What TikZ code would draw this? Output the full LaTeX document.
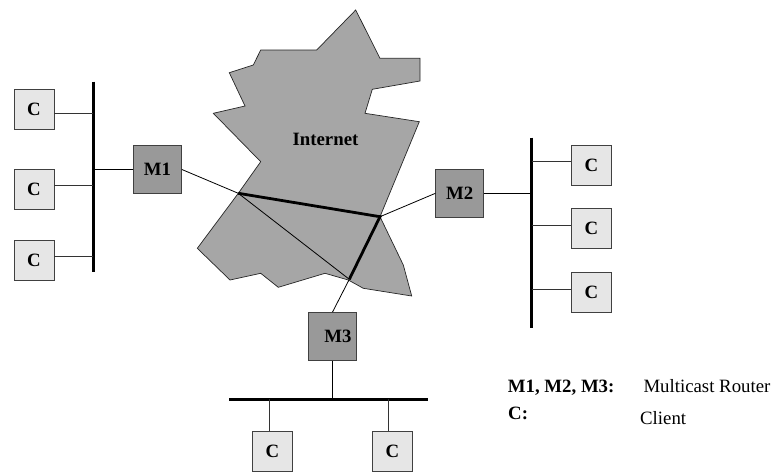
\documentclass[tikz,border=0pt]{standalone}
\usepackage{fontspec}
\setmainfont{Liberation Serif}
\definecolor{cloudfill}{HTML}{A6A6A6}
\definecolor{routerfill}{HTML}{999999}
\definecolor{clientfill}{HTML}{E6E6E6}
\definecolor{boxedge}{HTML}{404040}
\definecolor{tapgray}{HTML}{333333}
\newcommand{\labelfont}{\fontsize{18.8}{22}\selectfont}
\begin{document}
\begin{tikzpicture}[x=1pt,y=-1pt,
  client/.style={draw=boxedge, fill=clientfill, line width=0.8pt,
    minimum width=40pt, minimum height=40pt, inner sep=0pt,
    font=\labelfont\bfseries},
  router/.style={draw=boxedge, fill=routerfill, line width=0.8pt,
    minimum size=48pt, inner sep=0pt, font=\labelfont\bfseries},
  cloud/.style={draw=black!85, fill=cloudfill, line width=0.7pt, line join=miter},
  bus/.style={line width=3pt},
  link/.style={line width=0.8pt, draw=black},
  tap/.style={line width=0.8pt, draw=tapgray},
  backbone/.style={line width=2.8pt},
  plaintext/.style={inner sep=0pt, anchor=base west, font=\labelfont},
  boldtext/.style={plaintext, font=\labelfont\bfseries}]
\useasboundingbox (0,0) rectangle (773,471);

% the Internet cloud
\draw[cloud] (355.7,10) -- (380,58.3) -- (420,58.3) -- (420,81) -- (372.3,89.3)
  -- (365,113.3) -- (419.3,121.7) -- (380,216.7) -- (403.3,265) -- (411.7,296)
  -- (363.3,288.3) -- (348.3,280) -- (325,273.3) -- (278.3,287.3) -- (260.7,273.3)
  -- (230,280) -- (197.3,248.3) -- (238.3,193.3) -- (260.7,161.7) -- (213.3,113.3)
  -- (245,106) -- (229.3,72.7) -- (253.3,65) -- (260.7,50) -- (316.7,50) -- cycle;
\node[inner sep=0pt, anchor=base, font=\labelfont\bfseries] (inet) at (325.5,145.7) {Internet};

% border points of the Internet where the routers attach
\coordinate (ja) at (238.3,193.3);
\coordinate (jb) at (380,216.7);
\coordinate (jc) at (349.3,279.3);

% routers
\node[router] (m1) at (157.5,169.5) {M1};
\node[router] (m2) at (459.8,193.3) {M2};
\node[router] (m3) at (332.5,336.5) {\hspace{11pt}\raisebox{-2pt}{M3}};

% clients
\node[client] (cl1) at (34,109.3) {C};
\node[client] (cl2) at (34,189.3) {C};
\node[client] (cl3) at (34,260.7) {C};
\node[client] (cr1) at (591.3,165.3) {C};
\node[client] (cr2) at (591.3,228.7) {C};
\node[client] (cr3) at (591.3,292.5) {C};
\node[client] (cb1) at (272.5,451.7) {C};
\node[client] (cb2) at (392.3,451.7) {C};

% LAN segments
\coordinate (lbt) at (93.3,81.7);
\coordinate (lbb) at (93.3,271.7);
\coordinate (rbt) at (531.7,137.7);
\coordinate (rbb) at (531.7,328.3);
\coordinate (bbl) at (229,399.3);
\coordinate (bbr) at (428.3,399.3);
\draw[bus] (lbt) -- (lbb);
\draw[bus] (rbt) -- (rbb);
\draw[bus] (bbl) -- (bbr);

% client taps on the segments
\coordinate (lt1) at (93.3,113);
\coordinate (lt2) at (93.3,185);
\coordinate (lt3) at (93.3,256.7);
\draw[tap] (lt1) -- (lt1 -| cl1.east);
\draw[tap] (lt2) -- (lt2 -| cl2.east);
\draw[tap] (lt3) -- (lt3 -| cl3.east);
\coordinate (rt1) at (531.7,161.7);
\coordinate (rt2) at (531.7,225);
\coordinate (rt3) at (531.7,289);
\draw[tap] (rt1) -- (rt1 -| cr1.west);
\draw[tap] (rt2) -- (rt2 -| cr2.west);
\draw[tap] (rt3) -- (rt3 -| cr3.west);
\coordinate (bt1) at (269,399.3);
\coordinate (bt2) at (388.3,399.3);
\draw[tap] (bt1) -- (bt1 |- cb1.north);
\draw[tap] (bt2) -- (bt2 |- cb2.north);

% routers on their segments
\draw[link] (m1.west) -- (m1.west -| lbt);
\draw[link] (m2.east) -- (m2.east -| rbt);
\draw[link] (m3.south) -- (m3.south |- bbl);

% routers to the Internet
\draw[link] (m1.east) -- (ja);
\draw[link] (m2.west) -- (jb);
\draw[link] (m3.north) -- (jc);

% paths across the Internet
\draw[link] (ja) -- (jc);
\draw[backbone] (ja) -- (jb) -- (jc);

% legend
\node[boldtext] (k1) at (507.7,392) {M1, M2, M3:};
\node[plaintext] (k1t) at (643.3,392) {Multicast Router};
\node[boldtext] (k2) at (508,419) {C:};
\node[plaintext] (k2t) at (640,424) {Client};
\end{tikzpicture}
\end{document}
